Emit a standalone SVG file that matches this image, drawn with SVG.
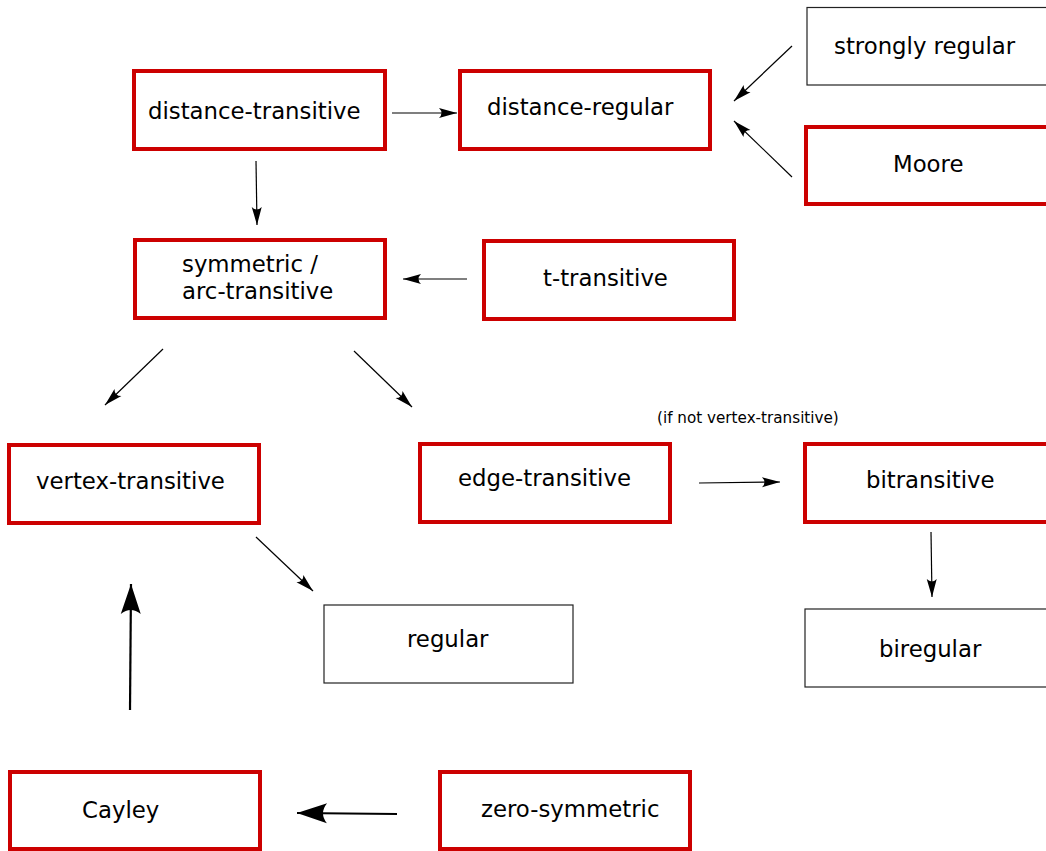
<svg xmlns="http://www.w3.org/2000/svg" width="1046" height="851" viewBox="0 0 1046 851">
<style>
  .red { fill: #ffffff; stroke: #cc0000; stroke-width: 4; }
  .thin { fill: #ffffff; stroke: #222222; stroke-width: 1.2; }
  .lbl { font-family: "DejaVu Sans", "Liberation Sans", sans-serif; font-size: 22.8px; fill: #000000; }
  .small { font-family: "DejaVu Sans", "Liberation Sans", sans-serif; font-size: 15.2px; fill: #000000; }
  .edge { fill: none; stroke: #000000; stroke-width: 1.2; marker-end: url(#arr); }
  .edge2 { fill: none; stroke: #000000; stroke-width: 2.2; marker-end: url(#arrBig); }
</style>
<defs>
  <marker id="arr" viewBox="-20 -8 22 16" refX="0" refY="0" markerWidth="22" markerHeight="16" markerUnits="userSpaceOnUse" orient="auto">
    <path d="M0,0 L-18,-5 Q-13,0 -18,5 Z" fill="#000000"/>
  </marker>
  <marker id="arrBig" viewBox="-34 -12 36 24" refX="0" refY="0" markerWidth="36" markerHeight="24" markerUnits="userSpaceOnUse" orient="auto">
    <path d="M0,0 L-30,-10 Q-22,0 -30,10 Z" fill="#000000"/>
  </marker>
</defs>
<rect x="0" y="0" width="1046" height="851" fill="#ffffff"/>

<g id="connectors">
  <path class="edge" d="M392,113 L457,113"/>
  <path class="edge" d="M256,161 L257,225"/>
  <path class="edge" d="M792,46 L734,101"/>
  <path class="edge" d="M792,177 L734,121"/>
  <path class="edge" d="M467,279 L403,279"/>
  <path class="edge" d="M163,349 L105,405"/>
  <path class="edge" d="M354,351 L412,407"/>
  <path class="edge" d="M699,483 L780,482"/>
  <path class="edge" d="M931,532 L932,597"/>
  <path class="edge" d="M256,537 L313,591"/>
  <path class="edge2" d="M130,710 L131,584"/>
  <path class="edge2" d="M397,814 L297,813"/>
</g>

<g id="node-distance-transitive">
  <rect class="red" x="134" y="71" width="251" height="78"/>
  <text class="lbl" x="148" y="119">distance-transitive</text>
</g>
<g id="node-distance-regular">
  <rect class="red" x="460" y="71" width="250" height="78"/>
  <text class="lbl" x="487" y="115">distance-regular</text>
</g>
<g id="node-strongly-regular">
  <rect class="thin" x="807" y="7.5" width="260" height="77.5"/>
  <text class="lbl" x="834" y="54">strongly regular</text>
</g>
<g id="node-moore">
  <rect class="red" x="806" y="127" width="260" height="77"/>
  <text class="lbl" x="893" y="172">Moore</text>
</g>
<g id="node-symmetric">
  <rect class="red" x="135" y="240" width="250" height="78"/>
  <text class="lbl" x="182" y="272">symmetric /</text>
  <text class="lbl" x="182" y="299">arc-transitive</text>
</g>
<g id="node-t-transitive">
  <rect class="red" x="484" y="241" width="250" height="78"/>
  <text class="lbl" x="543" y="286">t-transitive</text>
</g>
<g id="node-vertex-transitive">
  <rect class="red" x="9" y="445" width="250" height="78"/>
  <text class="lbl" x="36" y="489">vertex-transitive</text>
</g>
<g id="node-edge-transitive">
  <rect class="red" x="420" y="444" width="250" height="78"/>
  <text class="lbl" x="458" y="486">edge-transitive</text>
</g>
<g id="label-if-not">
  <text class="small" x="657" y="423">(if not vertex-transitive)</text>
</g>
<g id="node-bitransitive">
  <rect class="red" x="805" y="444" width="260" height="78"/>
  <text class="lbl" x="866" y="488">bitransitive</text>
</g>
<g id="node-regular">
  <rect class="thin" x="324" y="605" width="249" height="78"/>
  <text class="lbl" x="407" y="647">regular</text>
</g>
<g id="node-biregular">
  <rect class="thin" x="805" y="609" width="260" height="78"/>
  <text class="lbl" x="879" y="657">biregular</text>
</g>
<g id="node-cayley">
  <rect class="red" x="10" y="772" width="250" height="77"/>
  <text class="lbl" x="82" y="818">Cayley</text>
</g>
<g id="node-zero-symmetric">
  <rect class="red" x="440" y="772" width="250" height="77"/>
  <text class="lbl" x="481" y="817">zero-symmetric</text>
</g>
</svg>
